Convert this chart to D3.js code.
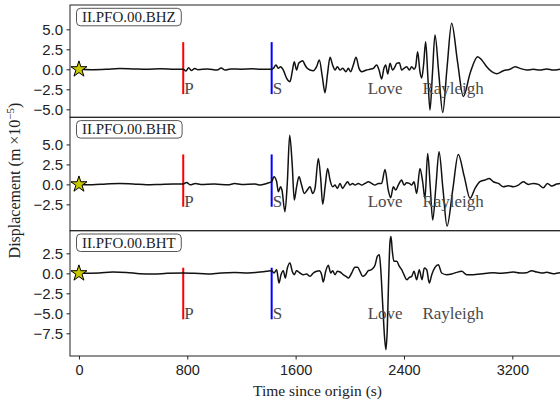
<!DOCTYPE html>
<html>
<head>
<meta charset="utf-8">
<script src="https://cdn.jsdelivr.net/npm/d3@7"></script>
<style>
  body { margin: 0; background: #fff; }
  svg { display: block; font-family: "Liberation Serif", "DejaVu Serif", serif; }
</style>
</head>
<body>
<div id="chart"></div>
<script>
// station channels, top to bottom
const channels = ["II.PFO.00.BHZ", "II.PFO.00.BHR", "II.PFO.00.BHT"];

// displacement traces, [time (s), displacement (m x 1e-5)]
const bhzTrace = [
    [0, 0], [100, -0.05], [200, 0], [300, 0.1], [400, 0.05], [500, 0], [600, 0.08], [700, 0.02],
    [770, 0], [790, -0.2], [810, 0.2], [830, -0.15], [855, 0.1], [880, -0.05], [950, 0.05],
    [1020, -0.08], [1050, 0.15], [1080, -0.1], [1120, 0.05], [1200, 0.02], [1280, 0.06], [1337, 0],
    [1423, 0], [1435, 0.12], [1455, 0.54], [1472, 0.12], [1489, 0.33], [1509, -0.09], [1534, -1.13],
    [1558, -1.55], [1575, -0.3], [1590, 0.95], [1607, -0.09], [1622, 0.75], [1637, 0.95], [1652, 1.08],
    [1669, 0.54], [1686, 0.12], [1706, -0.09], [1731, -0.17], [1755, 0.33], [1775, 1.16], [1797, -0.92],
    [1817, -2.92], [1836, -0.5], [1854, 1.5], [1873, 0.54], [1891, -0.09], [1908, 0.33], [1928, -0.09],
    [1947, 0.12], [1972, -0.3], [1989, 0.12], [2006, -0.3], [2026, 0.54], [2046, 1.5], [2068, 0.12],
    [2088, -0.3], [2124, -0.09], [2149, 0], [2174, 0.12], [2198, 0.54], [2216, -0.09], [2235, -1.21],
    [2252, 0.12], [2265, 0.54], [2280, -0.59], [2297, 0.75], [2316, -0.09], [2334, 0.33], [2346, 0.75],
    [2366, 0.83], [2383, -0.09], [2400, 0.12], [2420, 0.33], [2440, -0.09], [2457, 0.33], [2474, 0],
    [2486, 0.33], [2501, 2.2], [2518, -0.3], [2531, -1.1], [2545, 0.6], [2560, 3.45], [2576, -0.8],
    [2592, -5.09], [2610, -0.6], [2629, 4.29], [2657, -0.5], [2686, -5.4], [2718, 0.2], [2752, 5.75],
    [2795, 1.0], [2838, -3.4], [2890, -0.4], [2944, 1.58], [2974, 1.16], [3011, 0.33], [3048, -0.3],
    [3085, -0.55], [3134, -0.17], [3183, 0], [3220, 0.33], [3257, 0.12], [3306, -0.09], [3355, 0],
    [3405, -0.09], [3454, 0.04], [3503, -0.09], [3552, 0], [3600, 0.05]
];
const bhrTrace = [
    [0, 0], [100, -0.05], [200, 0.05], [300, 0.1], [400, 0.05], [500, -0.05], [600, 0], [700, 0.05],
    [770, 0.05], [795, 0.25], [820, -0.05], [860, 0.1], [900, 0], [1000, 0.05], [1100, -0.05],
    [1150, 0.1], [1200, 0], [1300, 0.05], [1337, -0.09], [1386, 0.12], [1423, 0.33], [1440, 0.95],
    [1460, 0.33], [1472, -0.92], [1489, -0.3], [1499, -0.71], [1521, -3.42], [1539, 0.33], [1556, 6.16],
    [1575, 2.41], [1590, -1.96], [1607, -0.3], [1625, 0.95], [1644, -0.09], [1664, -1.13], [1686, -0.71],
    [1706, -0.3], [1726, -1.13], [1743, -0.5], [1768, 3.25], [1785, 0.75], [1800, -2.5], [1819, -0.09],
    [1836, 2.0], [1854, 0.54], [1873, -0.3], [1891, -0.09], [1908, -0.5], [1928, 0.12], [1947, -0.5],
    [1964, -0.09], [1984, 0.33], [2001, -0.09], [2021, 0.12], [2038, -0.09], [2063, 0.12], [2088, -0.09],
    [2112, 0.12], [2137, 0.33], [2161, 0.12], [2186, -0.09], [2211, 0.12], [2235, 0.12], [2260, 1.87],
    [2284, -0.71], [2302, -1.67], [2321, -0.3], [2339, -0.71], [2358, -0.09], [2383, 0.54], [2400, -0.09],
    [2420, 0.2], [2440, 0.12], [2457, -0.09], [2474, 0.33], [2494, -1.13], [2518, 2.0], [2538, 0.33],
    [2555, -1.75], [2575, 3.87], [2594, -0.3], [2612, -4.46], [2636, -0.2], [2659, 4.08], [2688, -0.6],
    [2718, -5.21], [2760, -0.7], [2801, 3.75], [2845, 1.0], [2888, -1.75], [2925, -0.5], [2961, 0.33],
    [2998, 0.54], [3030, 0.75], [3060, 0.33], [3097, 0.12], [3134, -0.3], [3171, -0.17], [3208, -0.3],
    [3245, -0.09], [3281, 0.33], [3318, 0], [3355, 0.12], [3392, 0], [3429, -0.42], [3459, 0.12],
    [3491, -0.21], [3528, 0.04], [3552, 0.12], [3600, 0.05]
];
const bhtTrace = [
    [0, 0], [150, 0.05], [250, 0.15], [350, 0.1], [450, -0.05], [550, -0.1], [650, 0], [770, 0.05],
    [850, 0], [950, -0.08], [1050, 0.05], [1150, 0.1], [1250, 0.05], [1337, 0.16], [1386, 0.25],
    [1423, 0.33], [1440, 0.04], [1460, 0.45], [1477, -1.21], [1492, -0.17], [1509, 0.33], [1524, -0.59],
    [1539, 0.66], [1558, 1.29], [1575, 0.25], [1590, -0.17], [1607, 0.33], [1632, 0.04], [1657, -0.17],
    [1681, -0.09], [1706, -0.38], [1731, 0.04], [1755, 0.25], [1775, 0.33], [1792, -0.17], [1804, -1.09],
    [1822, 0.25], [1841, 1.0], [1859, 0.04], [1873, 0.33], [1891, -0.17], [1908, 0.25], [1928, 0.16],
    [1952, -0.17], [1972, -0.38], [1989, -0.59], [2014, 0.04], [2038, 0.75], [2058, 0.75], [2075, 0.25],
    [2095, -0.38], [2115, -0.17], [2137, 0.33], [2161, 0.45], [2186, 1.0], [2203, 2.12], [2218, 2.33],
    [2228, 0.66], [2243, -3.92], [2257, -8.09], [2267, -9.55], [2277, -6.84], [2287, -0.59], [2297, 4.0],
    [2304, 4.62], [2314, 2.75], [2326, 1.5], [2346, 1.5], [2366, 0.87], [2383, 0.45], [2400, -0.17],
    [2420, -0.8], [2440, -0.5], [2457, -0.38], [2474, 0.25], [2494, -0.8], [2513, 0.45], [2533, -0.8],
    [2550, 0.66], [2568, 0.45], [2587, -1.21], [2605, -0.17], [2629, 0.75], [2654, 1.08], [2678, 0.04],
    [2715, -0.17], [2752, -0.09], [2789, 0.12], [2826, 0.25], [2863, -0.17], [2912, -0.17], [2961, -0.09],
    [3011, 0], [3060, 0.08], [3109, 0], [3158, 0.08], [3207, 0.16], [3257, 0.04], [3306, 0.08],
    [3343, 0.33], [3380, 0.16], [3417, 0.04], [3454, 0.12], [3503, -0.05], [3552, 0.08], [3600, 0.05]
];
const traces = [bhzTrace, bhrTrace, bhtTrace];

// axis limits and ticks per panel
const timeLimits = [-66, 3589];
const timeTicks = [0, 800, 1600, 2400, 3200];
const yLimits = [[-6.0, 8.04], [-5.8, 8.4], [-10.34, 5.33]];
const yTicks = [[-5, -2.5, 0, 2.5, 5], [-2.5, 0, 2.5, 5], [-7.5, -5, -2.5, 0, 2.5]];

// body-wave arrivals and the extent of their marker lines per panel
const phaseNames = ["P", "S"];
const phaseTimes = [770, 1423];
const phaseColors = ["#ff0000", "#0000ff"];
const markerSpans = [[-3.1, 3.4], [-2.8, 3.75], [-5.75, 0.7]];

// surface-wave labels
const waveNames = ["Love", "Rayleigh"];
const waveTimes = [2132, 2536];

const width = 560, height = 400;
const left = 70, right = 565;
const panelEdges = [5, 117.3, 230.7, 356];

const svg = d3.select("#chart")
    .append("svg")
    .attr("width", width)
    .attr("height", height);

const x = d3.scaleLinear().domain(timeLimits).range([left, right]);

svg.append("defs").append("clipPath")
    .attr("id", "plotClip")
    .append("rect")
    .attr("x", left).attr("y", 0)
    .attr("width", width - left).attr("height", height);

channels.forEach((name, i) => {
    const top = panelEdges[i], bottom = panelEdges[i + 1];
    const y = d3.scaleLinear().domain(yLimits[i]).range([bottom, top]);
    const g = svg.append("g");
    const plot = g.append("g").attr("clip-path", "url(#plotClip)");

    // phase marker lines
    phaseTimes.forEach((t, k) => {
        plot.append("line")
            .attr("x1", x(t)).attr("x2", x(t))
            .attr("y1", y(markerSpans[i][0])).attr("y2", y(markerSpans[i][1]))
            .attr("stroke", phaseColors[k])
            .attr("stroke-width", 2);
    });

    // the trace
    const line = d3.line()
        .x(d => x(d[0]))
        .y(d => y(d[1]))
        .curve(d3.curveMonotoneX);
    plot.append("path")
        .datum(traces[i])
        .attr("d", line)
        .attr("fill", "none")
        .attr("stroke", "#111")
        .attr("stroke-width", 1.5);

    // phase labels sit on the bottom of the marker lines
    const labelY = y(markerSpans[i][0]);
    phaseNames.forEach((p, k) => {
        plot.append("text")
            .attr("x", x(phaseTimes[k]) + 1)
            .attr("y", labelY)
            .attr("font-size", 17)
            .attr("fill", "#4a4a4a")
            .text(p);
    });
    waveNames.forEach((w, k) => {
        plot.append("text")
            .attr("x", x(waveTimes[k]))
            .attr("y", labelY)
            .attr("font-size", 17)
            .attr("fill", "#4a4a4a")
            .text(w);
    });

    // event origin star
    plot.append("path")
        .attr("d", d3.symbol().type(d3.symbolStar).size(80)())
        .attr("transform", `translate(${x(0)},${y(0)})`)
        .attr("fill", "#c8c800")
        .attr("stroke", "#000")
        .attr("stroke-width", 1);

    // frame
    g.append("rect")
        .attr("x", left).attr("y", top)
        .attr("width", right - left).attr("height", bottom - top)
        .attr("fill", "none")
        .attr("stroke", "#222")
        .attr("stroke-width", 1);

    // y axis
    const yAxis = d3.axisLeft(y)
        .tickValues(yTicks[i])
        .tickSize(3.5)
        .tickPadding(3.5)
        .tickFormat(d => d3.format(".1f")(d).replace("-", "\u2212"));
    g.append("g")
        .attr("transform", `translate(${left},0)`)
        .call(yAxis)
        .call(a => a.select(".domain").remove())
        .call(a => a.selectAll("text").attr("font-size", 15).attr("font-family", null).attr("fill", "#222"))
        .call(a => a.selectAll("line").attr("stroke", "#222"));

    // station label box
    const label = g.append("g");
    const txt = label.append("text")
        .attr("x", left + 12)
        .attr("y", top + 12)
        .attr("dominant-baseline", "central")
        .attr("font-size", 15)
        .attr("fill", "#222")
        .text(name);
    const bb = txt.node().getBBox();
    label.insert("rect", "text")
        .attr("x", bb.x - 5.5)
        .attr("y", top + 3.3)
        .attr("width", bb.width + 11)
        .attr("height", 17.5)
        .attr("rx", 4)
        .attr("fill", "#fff")
        .attr("stroke", "#555")
        .attr("stroke-width", 1);
});

// shared time axis
const xAxis = d3.axisBottom(x)
    .tickValues(timeTicks)
    .tickSize(3.5)
    .tickPadding(5)
    .tickFormat(d3.format("d"));
svg.append("g")
    .attr("transform", `translate(0,${panelEdges[3]})`)
    .call(xAxis)
    .call(a => a.select(".domain").remove())
    .call(a => a.selectAll("text").attr("font-size", 14.5).attr("font-family", null).attr("fill", "#222"))
    .call(a => a.selectAll("line").attr("stroke", "#222"));

svg.append("text")
    .attr("x", (left + right) / 2)
    .attr("y", 396)
    .attr("text-anchor", "middle")
    .attr("font-size", 15.5)
    .attr("fill", "#222")
    .text("Time since origin (s)");

const ylab = svg.append("text")
    .attr("transform", `translate(19.5,${(panelEdges[0] + panelEdges[3]) / 2}) rotate(-90)`)
    .attr("text-anchor", "middle")
    .attr("font-size", 16)
    .attr("fill", "#222");
ylab.append("tspan").text("Displacement (m \u00d710");
ylab.append("tspan").attr("dy", -5.5).attr("font-size", 11).text("\u22125");
ylab.append("tspan").attr("dy", 5.5).text(")");
</script>
</body>
</html>
